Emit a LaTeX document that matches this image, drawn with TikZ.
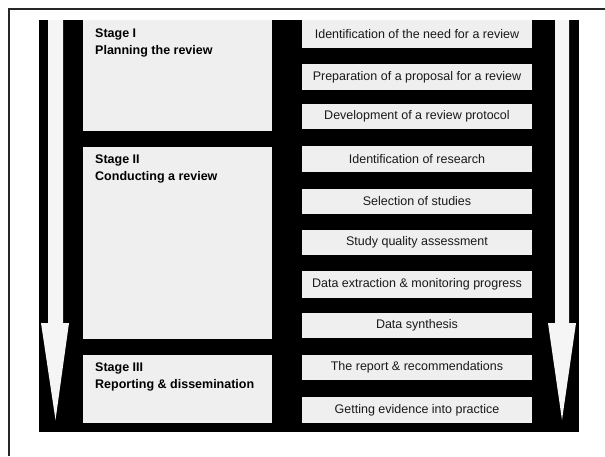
\documentclass[tikz,border=0pt]{standalone}
\usepackage{fontspec}
\setmainfont{Liberation Sans}
\begin{document}
\begin{tikzpicture}[x=1pt,y=-1pt,
  panel/.style={fill=panelgray,draw=none,inner sep=0pt,outer sep=0pt},
  stepbox/.style={panel,minimum width=230pt,minimum height=25.5pt,
    font=\fontsize{12.5}{15}\selectfont,text=black!90},
  stagetext/.style={anchor=north west,inner sep=0pt,align=left,
    font=\fontsize{12.5}{17}\selectfont\bfseries},
  flow/.style={fill=arrowwhite,draw=none}]
\definecolor{panelgray}{HTML}{EFEFEF}
\definecolor{arrowwhite}{HTML}{F5F5F5}
\useasboundingbox (0,0) rectangle (605,456);
% outer frame (top and left edges)
\draw[line width=2pt,black!85] (605,9) -- (9,9) -- (9,456);
% black backdrop
\fill[black] (39,20) rectangle (579,432);
% downward flow arrows
\fill[flow] (48,20) -- (63,20) -- (63,323) -- (69,323) -- (55.5,420) -- (41,323) -- (48,323) -- cycle;
\fill[flow] (555,20) -- (569,20) -- (569,323) -- (576,323) -- (562,420) -- (548,323) -- (555,323) -- cycle;
% stage panels
\node[panel,minimum width=189pt,minimum height=111pt,anchor=north west] (st1) at (83,20) {};
\node[panel,minimum width=189pt,minimum height=192pt,anchor=north west] (st2) at (83,147) {};
\node[panel,minimum width=189pt,minimum height=68pt,anchor=north west] (st3) at (83,355) {};
\node[stagetext] (t1) at ([xshift=12pt,yshift=-9pt]st1.north west) {Stage I\\Planning the review};
\node[stagetext] (t2) at ([xshift=12pt,yshift=-8pt]st2.north west) {Stage II\\Conducting a review};
\node[stagetext] (t3) at ([xshift=12pt,yshift=-8pt]st3.north west) {Stage III\\Reporting \& dissemination};
% activity boxes
\node[stepbox,minimum height=28pt] (b1) at (417,34) {Identification of the need for a review};
\node[stepbox] (b2) at (417,76.8) {Preparation of a proposal for a review};
\node[stepbox] (b3) at (417,116.7) {Development of a review protocol};
\node[stepbox] (b4) at (417,159.2) {Identification of research};
\node[stepbox] (b5) at (417,201.5) {Selection of studies};
\node[stepbox] (b6) at (417,242.5) {Study quality assessment};
\node[stepbox,minimum height=27pt] (b7) at (417,284.5) {Data extraction \& monitoring progress};
\node[stepbox] (b8) at (417,325.5) {Data synthesis};
\node[stepbox] (b9) at (417,367.5) {The report \& recommendations};
\node[stepbox,minimum height=26pt] (b10) at (417,410) {Getting evidence into practice};
\end{tikzpicture}
\end{document}
